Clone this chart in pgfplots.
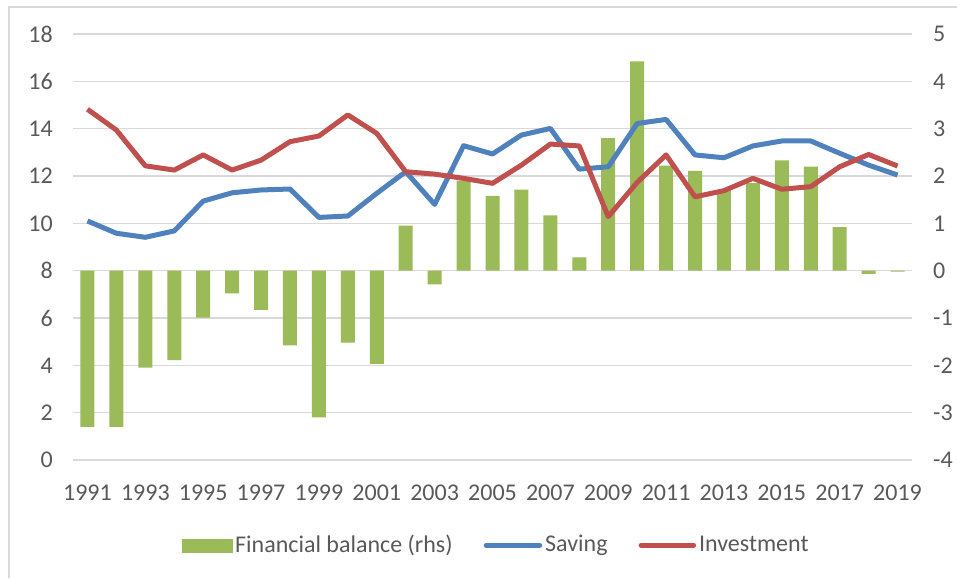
\documentclass[border=0pt]{standalone}
\usepackage{pgfplots}
\pgfplotsset{compat=1.18}
\usepackage{fontspec}
\setmainfont{Carlito}
\definecolor{barg}{HTML}{9BBB59}
\definecolor{sblue}{HTML}{4F81BD}
\definecolor{ired}{HTML}{C0504D}
\definecolor{gridc}{HTML}{D9D9D9}
\definecolor{txt}{HTML}{595959}
\pgfplotstableread{
year bal
1991 -3.30
1992 -3.30
1993 -2.05
1994 -1.89
1995 -0.99
1996 -0.48
1997 -0.83
1998 -1.58
1999 -3.10
2000 -1.52
2001 -1.97
2002 0.95
2003 -0.29
2004 1.90
2005 1.58
2006 1.71
2007 1.17
2008 0.28
2009 2.80
2010 4.42
2011 2.22
2012 2.11
2013 1.70
2014 1.85
2015 2.33
2016 2.20
2017 0.92
2018 -0.07
2019 -0.02
}\baltable
\pgfplotstableread{
year sav inv
1991 10.10 14.82
1992 9.58 13.94
1993 9.41 12.43
1994 9.68 12.25
1995 10.94 12.89
1996 11.29 12.25
1997 11.41 12.67
1998 11.45 13.45
1999 10.25 13.69
2000 10.31 14.58
2001 11.27 13.80
2002 12.18 12.18
2003 10.80 12.08
2004 13.28 11.90
2005 12.93 11.69
2006 13.73 12.46
2007 14.01 13.35
2008 12.29 13.27
2009 12.39 10.28
2010 14.22 11.73
2011 14.39 12.89
2012 12.89 11.12
2013 12.77 11.38
2014 13.27 11.90
2015 13.48 11.44
2016 13.48 11.55
2017 12.96 12.39
2018 12.46 12.91
2019 12.04 12.42
}\sitable
\begin{document}
\fontsize{24}{28}\selectfont
\begin{tikzpicture}
\useasboundingbox (0pt,0pt) rectangle (957pt,578pt);
\draw[gridc, line width=1.5pt] (9pt,0pt) -- (9pt,571pt) -- (957pt,571pt);
\begin{axis}[at={(73pt,118pt)}, anchor=south west, scale only axis,
  width=839pt, height=426pt,
  xmin=1990.5, xmax=2019.5, ymin=-4, ymax=5,
  axis line style={draw=none}, major tick length=0pt,
  xtick=\empty,
  ytick={-4,-3,-2,-1,0,1,2,3,4,5},
  yticklabels={-4,-3,-2,-1,0,1,2,3,4,5},
  yticklabel pos=right,
  yticklabel style={anchor=west, inner sep=0pt, xshift=21pt, text=txt},
  ymajorgrids, grid style={gridc, line width=1.5pt},
  ybar, bar width=14pt]
\addplot[fill=barg, draw=none] table[x=year, y=bal] {\baltable};
\end{axis}
\begin{axis}[at={(73pt,118pt)}, anchor=south west, scale only axis,
  width=839pt, height=426pt,
  xmin=1990.5, xmax=2019.5, ymin=0, ymax=18,
  axis line style={draw=none}, major tick length=0pt,
  xtick={1991,1993,...,2019},
  xticklabels={1991,1993,1995,1997,1999,2001,2003,2005,2007,2009,2011,2013,2015,2017,2019},
  xticklabel style={anchor=north, inner sep=0pt, yshift=-25pt, text=txt},
  ytick={0,2,...,18},
  yticklabels={0,2,4,6,8,10,12,14,16,18},
  yticklabel style={anchor=east, inner sep=0pt, xshift=-20pt, text=txt},
  legend style={at={(0.505,-0.2)}, anchor=center, draw=none, fill=none,
    legend columns=-1, text=txt, nodes={inner xsep=3pt, inner ysep=0pt},
    /tikz/every even column/.append style={column sep=28pt}},
  ]
\addlegendimage{legend image code/.code={\fill[barg] (0pt,-6.5pt) rectangle (50pt,6.5pt);}}
\addlegendentry{Financial balance (rhs)}
\addplot[sblue, line width=5pt, line join=round, mark=none,
  legend image code/.code={\draw[sblue, line width=5pt, line cap=round] (2.5pt,0pt) -- (56pt,0pt);}]
  table[x=year, y=sav] {\sitable};
\addlegendentry{Saving}
\addplot[ired, line width=5pt, line join=round, mark=none,
  legend image code/.code={\draw[ired, line width=5pt, line cap=round] (2.5pt,0pt) -- (55pt,0pt);}]
  table[x=year, y=inv] {\sitable};
\addlegendentry{Investment}
\end{axis}
\end{tikzpicture}
\end{document}
